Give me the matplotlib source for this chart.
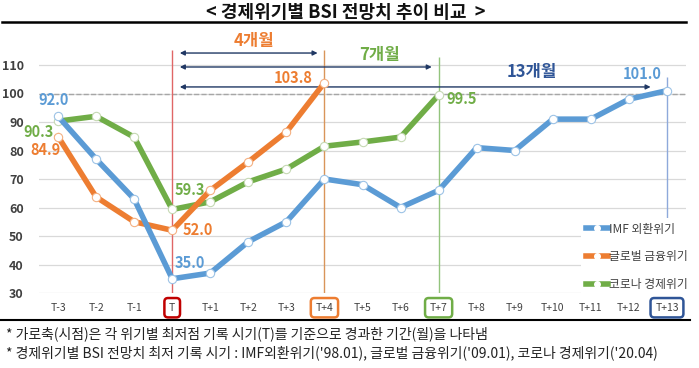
import matplotlib.pyplot as plt
from matplotlib.lines import Line2D

plt.rcParams['font.family'] = ['Noto Sans CJK KR', 'DejaVu Sans']

# data
periods = ['T-3', 'T-2', 'T-1', 'T', 'T+1', 'T+2', 'T+3', 'T+4', 'T+5', 'T+6',
           'T+7', 'T+8', 'T+9', 'T+10', 'T+11', 'T+12', 'T+13']
x = list(range(-3, 14))
imf = [92.0, 77, 63, 35.0, 37, 48, 55, 70, 68, 60, 66, 81, 80, 91, 91, 98, 101.0]
glob = [84.9, 63.7, 55, 52.0, 66, 76, 86.5, 103.8]
corona = [90.3, 92, 84.7, 59.3, 62, 69, 73.5, 81.5, 83, 84.7, 99.5]
names = ['IMF 외환위기', '글로벌 금융위기', '코로나 경제위기']

blue, orange, green = '#5b9bd5', '#ed7d31', '#70ad47'
navy = '#203864'

fig = plt.figure(figsize=(6.99, 3.68), dpi=100)
ax = fig.add_axes([39/699, 1-293/368, 647/699, 256.5/368])
ax.set_xlim(-3.5, 13.5)
ax.set_ylim(30, 120)
for s in ax.spines.values():
    s.set_visible(False)

for v in range(30, 120, 10):
    ax.axhline(v, color='#d9d9d9', lw=0.9, zorder=0)
ax.axhline(100, color='#a6a6a6', lw=1.0, ls='--', zorder=1)
ax.set_yticks(range(30, 111, 10))
ax.set_yticklabels([str(v) for v in range(30, 111, 10)], fontsize=9, color='#404040', fontweight='bold')
ax.tick_params(length=0)
ax.tick_params(axis='y', pad=11)
ax.set_xticks(x)
ax.set_xticklabels(periods, fontsize=7.5, color='#404040')
ax.tick_params(axis='x', pad=7)
box_col = {'T': '#c00000', 'T+4': orange, 'T+7': green, 'T+13': '#2f5597'}
for lab in ax.get_xticklabels():
    t = lab.get_text()
    if t in box_col:
        lab.set_bbox(dict(boxstyle='round,pad=0.45,rounding_size=0.35', fc='white',
                          ec=box_col[t], lw=1.8))

# vertical markers
ax.vlines(0, 30, 115.3, color='#e06666', lw=1.0, zorder=1)
ax.vlines(4, 30, 115.3, color='#d9955a', lw=1.0, zorder=1)
ax.vlines(7, 30, 112.8, color='#93c47d', lw=1.0, zorder=1)
ax.vlines(13, 30, 105.8, color='#8ea9db', lw=1.0, zorder=1)

# arrows
for x1, yv in [(4, 114.2), (7, 109.3), (12.75, 102.3)]:
    ax.annotate('', xy=(x1 - 0.18, yv), xytext=(0.2, yv),
                arrowprops=dict(arrowstyle='<|-|>', color=navy, lw=1.0,
                                mutation_scale=7, shrinkA=0, shrinkB=0))
ax.text(2.14, 118.3, '4개월', color=orange, fontsize=12, fontweight='bold', ha='center', va='center')
ax.text(5.45, 113.6, '7개월', color=green, fontsize=12, fontweight='bold', ha='center', va='center')
ax.text(9.44, 107.6, '13개월', color='#2f5597', fontsize=12, fontweight='bold', ha='center', va='center')

mk = dict(marker='o', markersize=6, markerfacecolor='white', markeredgewidth=0.8, lw=4)
ax.plot(x[:len(corona)], corona, color=green, markeredgecolor='#c6d9b4', zorder=3, **mk)
ax.plot(x[:len(glob)], glob, color=orange, markeredgecolor='#f4b183', zorder=4, **mk)
ax.plot(x, imf, color=blue, markeredgecolor='#9dc3e6', zorder=5, **mk)

# value labels
lbl = dict(fontsize=10.5, fontweight='bold', ha='center', va='center', clip_on=False)
ax.text(-3.13, 97.7, '92.0', color=blue, **lbl)
ax.text(-3.5, 86.6, '90.3', color=green, **lbl)
ax.text(-3.34, 80.2, '84.9', color=orange, **lbl)
ax.text(0.46, 66.1, '59.3', color=green, **lbl)
ax.text(0.67, 52.1, '52.0', color=orange, **lbl)
ax.text(0.46, 40.5, '35.0', color=blue, **lbl)
ax.text(3.19, 105.4, '103.8', color=orange, **lbl)
ax.text(7.6, 98.0, '99.5', color=green, **lbl)
ax.text(12.35, 106.8, '101.0', color=blue, **lbl)

handles = [Line2D([], [], color=c, lw=4, marker='o', markersize=4, markerfacecolor='white',
                  markeredgecolor='white') for c in (blue, orange, green)]
leg = ax.legend(handles, names, loc='upper left', bbox_to_anchor=(575/699, 1-212/368),
                bbox_transform=fig.transFigure, frameon=True, fancybox=False,
                edgecolor='none', facecolor='white', framealpha=1, fontsize=8.5,
                handlelength=1.9, handletextpad=0.05, labelspacing=1.25, borderpad=0.4)
leg.set_zorder(6)
for t in leg.get_texts():
    t.set_color('#404040')

# title and frame lines
fig.text(0.495, 1-12/368, '< 경제위기별 BSI 전망치 추이 비교  >', fontsize=13,
         fontweight='bold', ha='center', va='center', color='#111111')
fig.add_artist(Line2D([2/699, 686/699], [1-22/368, 1-22/368], color='black', lw=1.8))
fig.add_artist(Line2D([0, 690/699], [1-320/368, 1-320/368], color='black', lw=1.5))
fig.text(6/699, 1-334/368, '* 가로축(시점)은 각 위기별 최저점 기록 시기(T)를 기준으로 경과한 기간(월)을 나타냄',
         fontsize=10, ha='left', va='center', color='#222222')
fig.text(6/699, 1-353/368, "* 경제위기별 BSI 전망치 최저 기록 시기 : IMF외환위기('98.01), 글로벌 금융위기('09.01), 코로나 경제위기('20.04)",
         fontsize=10, ha='left', va='center', color='#222222')

fig.savefig('out.png', dpi=100)
